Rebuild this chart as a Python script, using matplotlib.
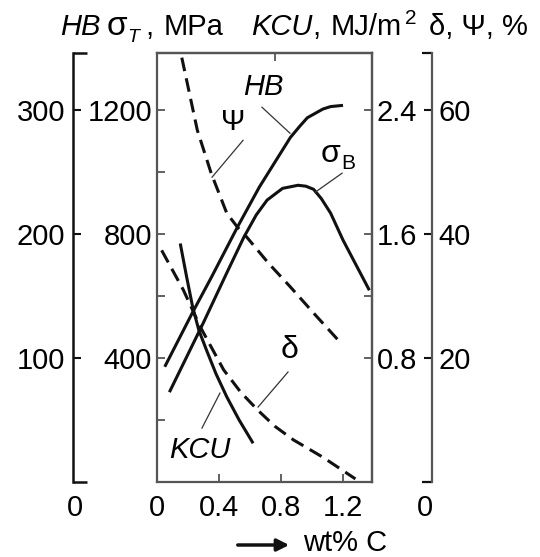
import matplotlib
matplotlib.use('Agg')
import matplotlib.pyplot as plt

plt.rcParams['font.family'] = ['Liberation Sans', 'DejaVu Sans']
plt.rcParams['font.size'] = 21

W, H = 540, 557

# ---- data (x = wt% C) ----
hb_x = [0.05, 0.23, 0.35, 0.52, 0.66, 0.75, 0.86, 0.92, 0.97, 1.07, 1.12, 1.20]
hb_y = [93, 137, 165, 206, 238, 256, 278, 287, 294, 301, 303, 304]          # HB

sb_x = [0.08, 0.30, 0.45, 0.56, 0.64, 0.71, 0.81, 0.91, 0.96, 1.01, 1.06, 1.12, 1.20, 1.37]
sb_y = [290, 515, 675, 790, 862, 910, 948, 958, 955, 945, 915, 868, 781, 619]  # sigma_B, MPa

psi_x = [0.16, 0.26, 0.35, 0.45, 0.52, 0.58, 0.72, 0.86, 1.02, 1.18]
psi_y = [68.5, 56.8, 49.8, 43.4, 41.1, 39.5, 35.3, 31.5, 27.0, 22.6]         # psi, %

dl_x = [0.03, 0.17, 0.28, 0.43, 0.54, 0.65, 0.76, 0.88, 1.07, 1.28]
dl_y = [37.4, 31.0, 25.0, 18.1, 14.5, 11.6, 9.0, 6.8, 4.0, 0.5]             # delta, %

kcu_x = [0.15, 0.19, 0.23, 0.27, 0.32, 0.38, 0.45, 0.53, 0.62]
kcu_y = [1.54, 1.33, 1.13, 0.98, 0.85, 0.70, 0.55, 0.40, 0.25]               # KCU, MJ/m2

x_ticks = [0, 0.4, 0.8, 1.2]
x_labels = ['0', '0.4', '0.8', '1.2']
mpa_ticks = [400, 800, 1200]
hb_ticks = [100, 200, 300]
kcu_ticks = [0.8, 1.6, 2.4]
pct_ticks = [20, 40, 60]

MPA_TOP = 1385
XMAX = 1.387

fig = plt.figure(figsize=(W / 100, H / 100), dpi=100)
ax = fig.add_axes([157 / W, 75 / H, 215 / W, 429 / H])

def ftext(px, py, s, **kw):
    fig.text(px / W, 1 - py / H, s, **kw)

box_col = '#555555'
ink = '#111111'

# main axes: sigma in MPa (left inner)
ax.set_xlim(0, XMAX)
ax.set_ylim(0, MPA_TOP)
for s in ax.spines.values():
    s.set_color(box_col)
    s.set_linewidth(1.6)
ax.set_yticks(mpa_ticks)
ax.set_yticks([200, 600, 1000], minor=True)
ax.set_xticks(x_ticks)
ax.set_xticklabels(x_labels)
ax.tick_params(axis='y', which='both', direction='in', left=True, right=False,
               length=6, width=1.3, color=box_col, pad=3.5, labelsize=21)
ax.tick_params(axis='x', which='both', direction='in', length=6, width=1.3,
               color=box_col, pad=9, labelsize=21)
top = ax.secondary_xaxis('top')
top.set_xticks([0.76])
top.tick_params(direction='in', length=6, width=1.3, color=box_col, labeltop=False)
top.spines['top'].set_color(box_col)
top.spines['top'].set_linewidth(1.6)

# KCU axis (right inner)
axk = ax.twinx()
axk.set_ylim(0, MPA_TOP / 500)
axk.set_yticks(kcu_ticks)
axk.set_yticks([1.2], minor=True)
axk.set_yticklabels(['0.8', '1.6', '2.4'])
axk.tick_params(axis='y', which='both', direction='in', length=6, width=1.3,
                color=box_col, pad=3.5, labelsize=21)
for k, s in axk.spines.items():
    s.set_visible(k == 'right')
axk.spines['right'].set_color(box_col)
axk.spines['right'].set_linewidth(1.6)

# HB axis (left outer)
axh = ax.twinx()
axh.set_ylim(0, MPA_TOP / 4)
axh.yaxis.set_ticks_position('left')
axh.yaxis.set_label_position('left')
axh.spines['left'].set_position(('axes', -84 / 215))
for k, s in axh.spines.items():
    s.set_visible(k == 'left')
axh.spines['left'].set_color(ink)
axh.spines['left'].set_linewidth(1.8)
axh.set_yticks(hb_ticks)
axh.set_yticks([0, MPA_TOP / 4], minor=True)
axh.tick_params(axis='y', which='major', direction='in', length=6, width=1.5,
                color=ink, pad=5.5, labelsize=21)
axh.tick_params(axis='y', which='minor', direction='in', length=10, width=1.8, color=ink)

# % axis (right outer)
axp = ax.twinx()
axp.set_ylim(0, MPA_TOP / 20)
axp.spines['right'].set_position(('axes', 1 + 60 / 215))
for k, s in axp.spines.items():
    s.set_visible(k == 'right')
axp.spines['right'].set_color(box_col)
axp.spines['right'].set_linewidth(1.6)
axp.set_yticks(pct_ticks)
axp.set_yticks([0, MPA_TOP / 20], minor=True)
axp.tick_params(axis='y', which='major', direction='in', length=6, width=1.5,
                color=ink, pad=4.5, labelsize=21)
axp.tick_params(axis='y', which='minor', direction='in', length=7, width=1.6, color=ink)

# curves
lw = 2.2
dash = (0, (4.5, 2.4))
axh.plot(hb_x, hb_y, color=ink, lw=lw, solid_capstyle='butt', solid_joinstyle='round')
ax.plot(sb_x, sb_y, color=ink, lw=lw, solid_capstyle='butt', solid_joinstyle='round',
        clip_on=False)
axp.plot(psi_x, psi_y, color=ink, lw=lw, linestyle=dash)
axp.plot(dl_x, dl_y, color=ink, lw=lw, linestyle=dash)
axk.plot(kcu_x, kcu_y, color=ink, lw=lw, solid_capstyle='butt', solid_joinstyle='round')

# leader lines and curve labels (in wt%, MPa)
leaders = [((0.677, 1210), (0.858, 1126)),
           ((0.555, 1103), (0.355, 984)),
           ((1.194, 997), (1.019, 935)),
           ((0.845, 355), (0.652, 242)),
           ((0.29, 174), (0.406, 287))]
for (x0, y0), (x1, y1) in leaders:
    ax.plot([x0, x1], [y0, y1], color='#333333', lw=0.9)

ax.text(0.684, 1274, 'HB', style='italic', ha='center', va='center', fontsize=21)
ax.text(0.49, 1161, 'Ψ', ha='center', va='center', fontsize=21)
ax.text(1.12, 1058, 'σ', ha='center', va='center', fontsize=23)
ax.text(1.235, 1028, 'B', ha='center', va='center', fontsize=15)
ax.text(0.858, 426, 'δ', ha='center', va='center', fontsize=23)
ax.text(0.277, 103, 'KCU', style='italic', ha='center', va='center', fontsize=21)

# header
base = 35
ftext(60, base, 'HB', style='italic', va='baseline')
ftext(107, base, 'σ', va='baseline', fontsize=24)
ftext(127, base + 7, 'T', style='italic', va='baseline', fontsize=14)
ftext(145, base, ',', va='baseline')
ftext(164, base, 'MPa', va='baseline')
ftext(251, base, 'KCU', style='italic', va='baseline')
ftext(312, base, ',', va='baseline')
ftext(331, base, 'MJ/m', va='baseline')
ftext(405, base - 11, '2', va='baseline', fontsize=15)
ftext(429, base, 'δ, Ψ, %', va='baseline')

# zero labels of the outer scales
ftext(75, 508, '0', ha='center', va='center')
ftext(425, 508, '0', ha='center', va='center')

# arrow + axis title
ax.annotate('', xy=(292 / W, 1 - 545 / H), xytext=(235 / W, 1 - 545 / H),
            xycoords='figure fraction',
            arrowprops=dict(arrowstyle='-|>', color=ink, lw=2.5, mutation_scale=18))
ftext(303, 551, 'wt% C', va='baseline')

fig.savefig('out.png', dpi=100)
